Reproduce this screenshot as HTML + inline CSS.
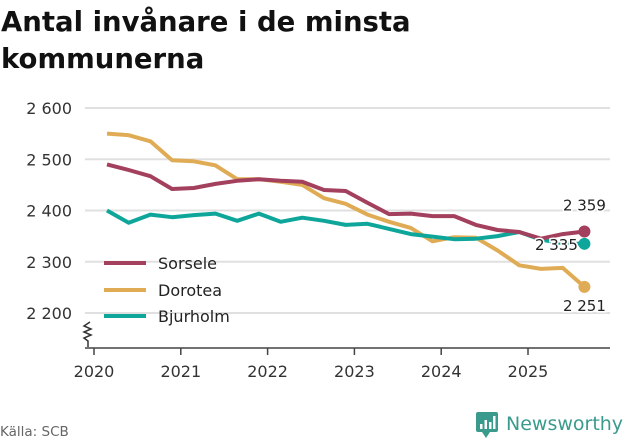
<!DOCTYPE html>
<html><head><meta charset="utf-8"><style>
body{margin:0;background:#fff;width:631px;height:439px;overflow:hidden;font-family:"DejaVu Sans","Liberation Sans",sans-serif}
</style></head><body>
<svg width="631" height="439" xmlns="http://www.w3.org/2000/svg" font-family="DejaVu Sans, Liberation Sans, sans-serif">
<text x="1" y="31" font-size="27.5" font-weight="bold" fill="#111">Antal invånare i de minsta</text>
<text x="1" y="68" font-size="27.5" font-weight="bold" fill="#111">kommunerna</text>
<g id="grid"></g><g id="ax"></g><g id="series"></g>
<path d="M90,322 l-6,4 l7,3 l-7,3 l7,3 l-7,3 l4,3 v6" fill="none" stroke="#333" stroke-width="1.5"/>
<line x1="85" y1="348" x2="610" y2="348" stroke="#444" stroke-width="1.5"/>
<g>
<line x1="104" y1="263" x2="146" y2="263" stroke="#a3405e" stroke-width="4"/>
<text x="158" y="269" font-size="16" fill="#222">Sorsele</text>
<line x1="104" y1="290" x2="146" y2="290" stroke="#dfac55" stroke-width="4"/>
<text x="158" y="296" font-size="16" fill="#222">Dorotea</text>
<line x1="104" y1="316" x2="146" y2="316" stroke="#0ea69a" stroke-width="4"/>
<text x="158" y="322" font-size="16" fill="#222">Bjurholm</text>
</g>
<text x="0" y="436" font-size="13.5" fill="#666">Källa: SCB</text>
<g>
<rect x="476" y="412" width="22" height="20" rx="2" fill="#3a9a8c"/><path d="M482,432 l4,6 l4,-6z" fill="#3a9a8c"/>
<rect x="480" y="424" width="2.5" height="5" fill="#fff"/><rect x="484.5" y="420" width="2.5" height="9" fill="#fff"/><rect x="489" y="422" width="2.5" height="7" fill="#fff"/><rect x="493" y="416" width="2.5" height="13" fill="#fff"/>
<text x="506" y="430" font-size="19" fill="#3a9a8c">Newsworthy</text>
</g>
</svg>
<script>
const yTicks=[2200,2300,2400,2500,2600];
const yTickLabels=["2 200","2 300","2 400","2 500","2 600"];
const xTicks=[2020,2021,2022,2023,2024,2025];
const startYear=2020.15;
const sorsele=[2490,2479,2467,2442,2444,2452,2458,2461,2458,2456,2440,2438,2415,2393,2394,2389,2389,2372,2362,2358,2345,2354,2359];
const dorotea=[2550,2547,2535,2498,2496,2488,2461,2461,2456,2450,2424,2413,2392,2378,2366,2340,2348,2347,2322,2293,2286,2288,2251];
const bjurholm=[2400,2376,2392,2387,2391,2394,2380,2394,2378,2386,2380,2372,2374,2364,2354,2349,2344,2345,2350,2358,2343,2336,2335];
const endLabels=["2 359","2 251","2 335"];
const NS="http://www.w3.org/2000/svg";
const X=v=>94+(v-2020)*86.8;
const Y=v=>313-(v-2200)*0.5125;
function mk(t,a,p){const e=document.createElementNS(NS,t);for(const k in a)e.setAttribute(k,a[k]);p.appendChild(e);return e;}
const grid=document.getElementById('grid'),ax=document.getElementById('ax'),ser=document.getElementById('series');
yTicks.forEach((t,i)=>{
 const l=mk('line',{x1:85,x2:610,y1:Y(t),y2:Y(t),stroke:'#e0e0e0','stroke-width':2},grid);
 
 
 const tx=mk('text',{x:72,y:Y(t)+6,'font-size':16,fill:'#333','text-anchor':'end'},ax);
 tx.textContent=yTickLabels[i];
 
 
});
xTicks.forEach(t=>{
 const l=mk('line',{x1:X(t),x2:X(t),y1:348,y2:355,stroke:'#444','stroke-width':1.5},ax);
 
 
 const tx=mk('text',{x:X(t),y:377,'font-size':16,fill:'#333','text-anchor':'middle'},ax);
 tx.textContent=t;
 
 
});
const series=[["dorotea",dorotea,"#dfac55"],["bjurholm",bjurholm,"#0ea69a"],["sorsele",sorsele,"#a3405e"]];
series.forEach(([n,d,c])=>{
 const pts=d.map((v,i)=>X(startYear+i*0.25).toFixed(1)+','+Y(v).toFixed(1)).join(' ');
 const pl=mk('polyline',{points:pts,fill:'none',stroke:c,'stroke-width':4,'stroke-linejoin':'round'},ser);
 
 
 const last=d.length-1;
 const dot=mk('circle',{cx:X(startYear+last*0.25),cy:Y(d[last]),r:6,fill:c},ser);
 
 
});
const lx=X(startYear+(sorsele.length-1)*0.25);
const lbls=[[lx,Y(sorsele[sorsele.length-1])-21,endLabels[0],'sorsele'],[lx,Y(dorotea[dorotea.length-1])+24,endLabels[1],'dorotea'],[lx-28,Y(bjurholm[bjurholm.length-1])+6,endLabels[2],'bjurholm']];
lbls.forEach(([x,y,s,n])=>{
 const t=mk('text',{x:x,y:y,'font-size':15,fill:'#222','text-anchor':'middle',stroke:'#fff','stroke-width':3,'paint-order':'stroke'},ser);
 t.textContent=s;
 
 
});
</script>
</body></html>
